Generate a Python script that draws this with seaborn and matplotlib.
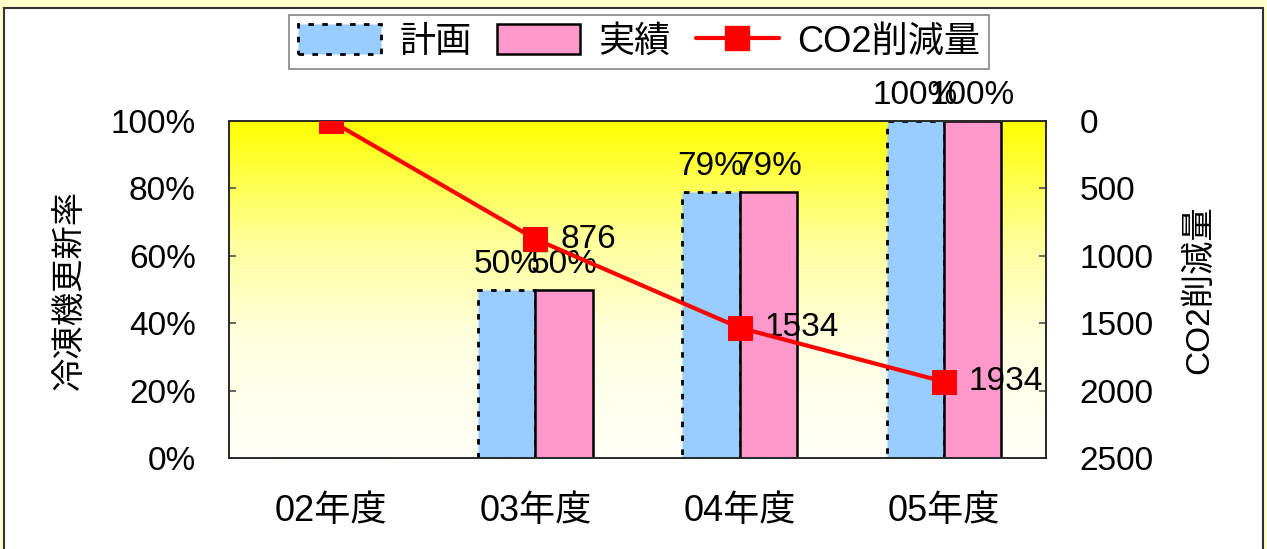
import numpy as np
import pandas as pd
import matplotlib
matplotlib.use('Agg')
import matplotlib.pyplot as plt
import seaborn as sns
from matplotlib.patches import Patch, Rectangle
from matplotlib.lines import Line2D
from matplotlib.colors import LinearSegmentedColormap

years = ['02年度', '03年度', '04年度', '05年度']
plan = [0, 50, 79, 100]
actual = [0, 50, 79, 100]
co2 = [0, 876, 1534, 1934]
series_names = ['計画', '実績']
line_name = 'CO2削減量'
left_label = '冷凍機更新率'
right_label = 'CO2削減量'

sns.set_theme(style='white')
plt.rcParams['font.family'] = ['Liberation Sans', 'Noto Sans CJK JP']
for k in ['text.color', 'axes.labelcolor', 'xtick.color', 'ytick.color']:
    plt.rcParams[k] = 'black'

FS = 24

df = pd.DataFrame({
    'year': years * 2,
    'rate': [v / 100 for v in plan + actual],
    'kind': [series_names[0]] * 4 + [series_names[1]] * 4,
})

fig = plt.figure(figsize=(12.67, 5.49), dpi=100, facecolor='#FFFFCC')
frame = Rectangle((4 / 1267, -0.05), 1259 / 1267, 1.05 - 8 / 549,
                  transform=fig.transFigure, facecolor='white',
                  edgecolor='#333333', linewidth=1.5, zorder=-5)
fig.add_artist(frame)
ax = fig.add_axes([229 / 1267, 91 / 549, 817 / 1267, 337 / 549])

# yellow -> white gradient background
cmap = LinearSegmentedColormap.from_list(
    'yw', [(0, '#FFFFF8'), (0.35, '#FFFFE0'), (0.65, '#FFFF99'), (1, '#FFFF00')])
grad = np.linspace(0, 1, 256).reshape(-1, 1)
ax.imshow(grad, aspect='auto', cmap=cmap, origin='lower',
          extent=[-0.5, 3.5, 0, 1], zorder=0)

sns.barplot(data=df, x='year', y='rate', hue='kind', ax=ax,
            palette=['#99CCFF', '#FF99CC'], width=0.56, gap=0,
            saturation=1, legend=False, zorder=2)
ax.set_xlim(-0.5, 3.5)
ax.set_ylim(0, 1)

n = len(years)
for i, p in enumerate(ax.patches):
    p.set_edgecolor('black')
    if i < n:
        p.set_linestyle((0, (2, 3)))
        p.set_linewidth(2)
    else:
        p.set_linewidth(1.8)

for cont, vals in zip(ax.containers, [plan, actual]):
    labels = [f'{v}%' if v > 0 else '' for v in vals]
    ax.bar_label(cont, labels=labels, padding=7, fontsize=FS)

ax.set_yticks(np.linspace(0, 1, 6))
ax.set_yticklabels([f'{int(v)}%' for v in np.linspace(0, 100, 6)], fontsize=FS)
ax.set_xticks(range(n))
ax.set_xticklabels(years, fontsize=26)
ax.set_xticks([0.5, 1.5, 2.5], minor=True)
ax.tick_params(axis='x', which='major', length=0, pad=26)
ax.tick_params(axis='x', which='minor', direction='in', length=7, width=1, color='#666666')
ax.tick_params(axis='y', direction='in', length=5, left=True, color='#555555', pad=24)
ax.set_xlabel('')
ax.set_ylabel(left_label, fontsize=FS, labelpad=18)
for s in ax.spines.values():
    s.set_color('#444444')
    s.set_linewidth(1.2)

ax2 = ax.twinx()
sns.lineplot(x=np.arange(n), y=co2, ax=ax2, color='#FF0000', linewidth=3,
             marker='s', markersize=17, markeredgecolor='#FF0000', zorder=5)
ax2.set_ylim(2500, 0)
ax2.set_yticks(range(0, 2501, 500))
ax2.set_yticklabels([str(v) for v in range(0, 2501, 500)], fontsize=FS)
ax2.tick_params(axis='y', direction='in', length=5, right=True, color='#555555', pad=24)
ax2.set_ylabel(right_label, fontsize=FS, rotation=90, labelpad=22)
for i, v in enumerate(co2):
    if v > 0:
        ax2.annotate(str(v), (i, v), xytext=(18, 0), textcoords='offset points',
                     fontsize=FS, va='center', ha='left')

handles = [
    Patch(facecolor='#99CCFF', edgecolor='black', linestyle=(0, (2, 3)), linewidth=2),
    Patch(facecolor='#FF99CC', edgecolor='black', linewidth=1.8),
    Line2D([], [], color='#FF0000', linewidth=3, marker='s', markersize=17),
]
leg = fig.legend(handles, series_names + [line_name], loc='center',
                 bbox_to_anchor=(639 / 1267, 1 - 42 / 549), ncol=3, fontsize=26,
                 frameon=True, fancybox=False, handlelength=2.3, handleheight=0.9,
                 columnspacing=0.7, handletextpad=0.5, borderpad=0.25)
leg.get_frame().set_edgecolor('#666666')
leg.get_frame().set_linewidth(1.2)

fig.savefig('out.png', dpi=100, facecolor=fig.get_facecolor())
